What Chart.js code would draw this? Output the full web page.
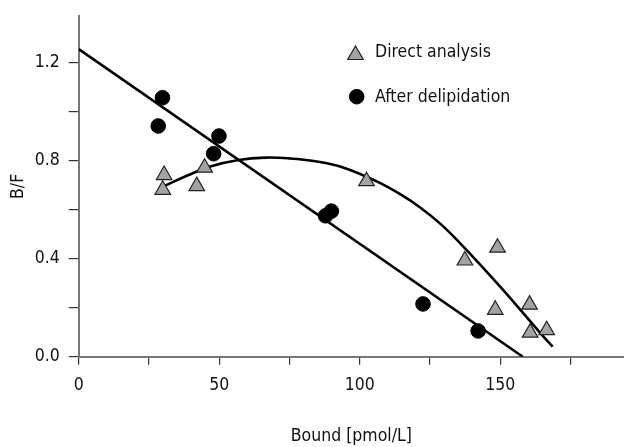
<!DOCTYPE html>
<html>
<head>
<meta charset="utf-8">
<script src="https://cdn.jsdelivr.net/npm/chart.js@4/dist/chart.umd.min.js"></script>
<style>
html,body{margin:0;padding:0;background:#fff;}
#wrap{position:relative;width:624px;height:447px;}
</style>
</head>
<body>
<div id="wrap"><canvas id="c" width="624" height="447"></canvas></div>
<script>
// ---- data ----
const directX = [30.4, 29.9, 42.0, 44.8, 102.4, 137.4, 149.0, 148.2, 160.4, 160.6, 166.5];
const directY = [0.74, 0.68, 0.695, 0.77, 0.715, 0.392, 0.444, 0.191, 0.212, 0.098, 0.108];
const delipX = [29.8, 28.3, 49.9, 48.0, 89.9, 87.8, 122.5, 142.1];
const delipY = [1.055, 0.94, 0.899, 0.827, 0.593, 0.574, 0.215, 0.105];
const lineX = [0, 158];
const lineY = [1.253, 0];
const curveX = [30.8, 39.1, 46.8, 56.9, 66.4, 74.7, 84.2, 94.3, 106.2, 114.5, 121.6, 128.8, 135.9, 143.0, 150.1, 157.3, 164.4, 168.6];
const curveY = [0.697, 0.740, 0.775, 0.801, 0.811, 0.808, 0.796, 0.770, 0.713, 0.661, 0.607, 0.540, 0.460, 0.373, 0.283, 0.189, 0.094, 0.041];
const xTicks = [0, 25, 50, 75, 100, 125, 150, 175];
const xLabels = [0, 50, 100, 150];
const yTicks = [0, 0.2, 0.4, 0.6, 0.8, 1.0, 1.2];
const yLabels = [0, 0.4, 0.8, 1.2];
const seriesNames = ['Direct analysis', 'After delipidation'];
const xTitle = 'Bound [pmol/L]';
const yTitle = 'B/F';

const FONT = '"Liberation Sans Narrow", "DejaVu Sans Condensed", "Liberation Sans", Arial, sans-serif';
const FS = 17.5;
const TRI_FILL = '#a3a3a3';
const pts = (xs, ys) => xs.map((x, i) => ({x: x, y: ys[i]}));

const legendPlugin = {
  id: 'customLegend',
  afterDraw(chart) {
    const ctx = chart.ctx;
    ctx.save();
    const items = [
      {style: 'triangle', r: 9, fill: TRI_FILL, stroke: '#222', bw: 1.2, px: 355.5, py: 55, ty: 52},
      {style: 'circle', r: 7.3, fill: '#000', stroke: '#000', bw: 1, px: 356.7, py: 96.7, ty: 97}
    ];
    items.forEach((it, i) => {
      ctx.fillStyle = it.fill; ctx.strokeStyle = it.stroke; ctx.lineWidth = it.bw;
      Chart.helpers.drawPoint(ctx, {pointStyle: it.style, radius: it.r, borderWidth: it.bw}, it.px, it.py);
      ctx.fillStyle = '#111';
      ctx.font = FS + 'px ' + FONT;
      ctx.textBaseline = 'middle';
      ctx.textAlign = 'left';
      ctx.fillText(seriesNames[i], 375, it.ty);
    });
    ctx.restore();
  }
};

new Chart(document.getElementById('c'), {
  type: 'scatter',
  data: {
    datasets: [
      {label: seriesNames[0], data: pts(directX, directY), pointStyle: 'triangle', pointRadius: 9,
       backgroundColor: TRI_FILL, borderColor: '#222', borderWidth: 1.2, order: 0},
      {label: seriesNames[1], data: pts(delipX, delipY), pointStyle: 'circle', pointRadius: 7.3,
       backgroundColor: '#000', borderColor: '#000', borderWidth: 1, order: 0},
      {label: 'fit1', data: pts(lineX, lineY), showLine: true, pointRadius: 0, borderColor: '#000',
       borderWidth: 2.6, order: 1},
      {label: 'fit2', data: pts(curveX, curveY), showLine: true, pointRadius: 0, borderColor: '#000',
       borderWidth: 2.6, tension: 0.4, order: 1}
    ]
  },
  options: {
    responsive: false,
    animation: false,
    layout: {autoPadding: false, padding: {top: 16, right: 0, left: 0, bottom: 0}},
    plugins: {legend: {display: false}, tooltip: {enabled: false}},
    scales: {
      x: {
        type: 'linear', min: 0, max: 194,
        afterBuildTicks: s => { s.ticks = xTicks.map(v => ({value: v})); },
        afterFit: s => { s.height = 90.3; s.paddingLeft = 0; s.paddingRight = 0; },
        grid: {drawOnChartArea: false, drawTicks: true, tickLength: 8, color: '#333', lineWidth: 1.2},
        border: {display: true, color: '#777', width: 2},
        ticks: {
          color: '#111', font: {family: FONT, size: FS}, padding: 10, maxRotation: 0, autoSkip: false,
          callback: v => xLabels.includes(v) ? String(v) : ''
        },
        title: {display: true, text: xTitle, color: '#111', font: {family: FONT, size: FS}, padding: {top: 0, bottom: 0}}
      },
      y: {
        type: 'linear', min: 0, max: 1.388,
        afterBuildTicks: s => { s.ticks = yTicks.map(v => ({value: v})); },
        afterFit: s => { s.width = 78.7; s.paddingTop = 0; s.paddingBottom = 0; },
        grid: {drawOnChartArea: false, drawTicks: true, tickLength: 10, color: '#333', lineWidth: 1.2},
        border: {display: true, color: '#777', width: 2},
        ticks: {
          color: '#111', font: {family: FONT, size: FS}, padding: 9, autoSkip: false,
          callback: v => yLabels.some(l => Math.abs(l - v) < 1e-9) ? v.toFixed(1) : ''
        },
        title: {display: true, text: yTitle, color: '#111', font: {family: FONT, size: FS}, padding: {top: 8, bottom: 0}}
      }
    }
  },
  plugins: [legendPlugin]
});
</script>
</body>
</html>
